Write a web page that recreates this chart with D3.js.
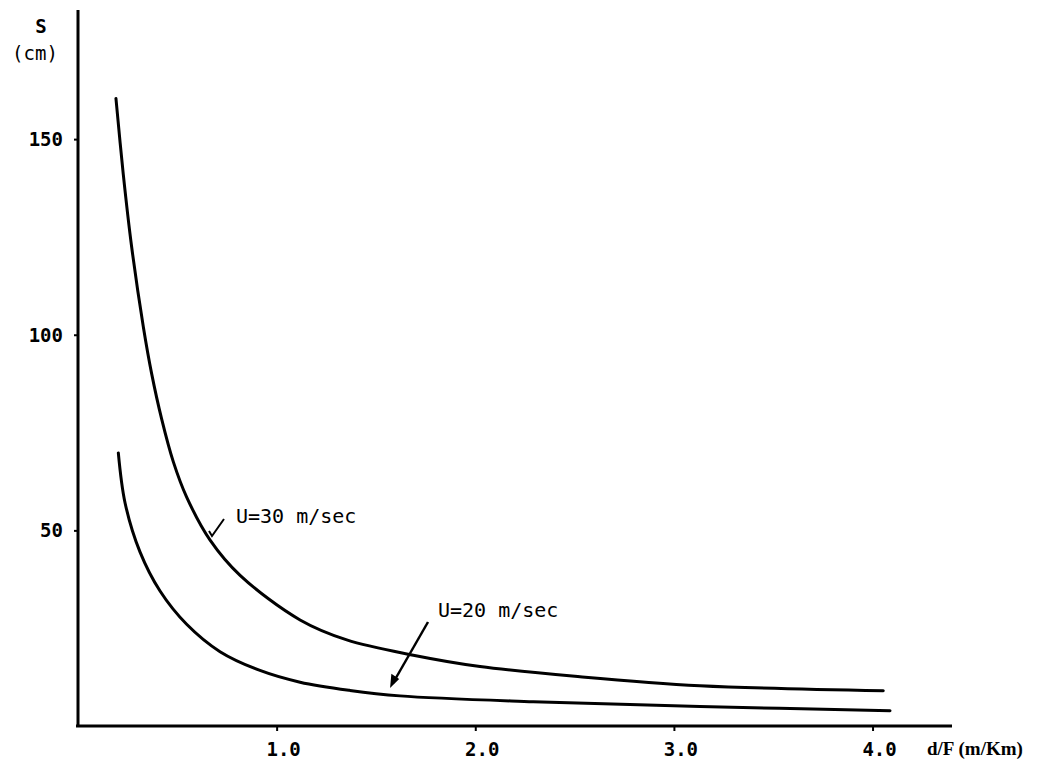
<!DOCTYPE html>
<html>
<head>
<meta charset="utf-8">
<script src="https://cdn.jsdelivr.net/npm/d3@7"></script>
<style>
  body { margin: 0; background: #fff; }
  svg { display: block; }
</style>
</head>
<body>
<svg id="chart" width="1057" height="765"></svg>
<script>
// data (x = d/F in m/Km, y = S in cm)
const u30X = [0.191, 0.228, 0.270, 0.329, 0.371, 0.421, 0.480, 0.547, 0.665, 0.816, 1.118, 1.353, 1.688, 2.024, 2.527, 3.131, 4.054];
const u30Y = [160.4, 141.0, 122.5, 102.0, 90.0, 78.5, 67.5, 58.5, 47.5, 38.5, 27.1, 22.0, 18.1, 15.2, 12.6, 10.3, 9.0];
const u20X = [0.203, 0.237, 0.312, 0.413, 0.547, 0.715, 0.916, 1.118, 1.369, 1.621, 2.292, 3.131, 4.088];
const u20Y = [69.8, 57.0, 44.5, 34.5, 26.0, 19.0, 14.2, 11.2, 9.1, 7.7, 6.2, 5.0, 3.9];
const xTicks = [1, 2, 3, 4];
const xTickLabels = ["1.0", "2.0", "3.0", "4.0"];
const yTicks = [50, 100, 150];

const svg = d3.select("#chart");

const x = d3.scaleLinear().domain([0, 4.4]).range([78, 952]);
const y = d3.scaleLinear().domain([0, 183]).range([726, 10]);

const monoFont = "'DejaVu Sans Mono', 'Liberation Mono', monospace";

// axes
const xAxis = d3.axisBottom(x).tickValues(xTicks).tickSize(5).tickFormat("");
const yAxis = d3.axisLeft(y).tickValues(yTicks).tickSize(4).tickFormat("");

const gx = svg.append("g").attr("transform", `translate(0,${y(0)})`).call(xAxis);
gx.select(".domain").remove();
gx.selectAll(".tick line").attr("stroke", "#000").attr("stroke-width", 2);
gx.append("line")
  .attr("x1", x(-0.01)).attr("x2", x(4.4))
  .attr("stroke", "#000").attr("stroke-width", 3);

const gy = svg.append("g").attr("transform", `translate(${x(0)},0)`).call(yAxis);
gy.select(".domain").remove();
gy.selectAll(".tick line").attr("stroke", "#000").attr("stroke-width", 2);
gy.append("line")
  .attr("y1", y(183)).attr("y2", y(0) + 1)
  .attr("stroke", "#000").attr("stroke-width", 3);

// tick labels
svg.selectAll(".xlab")
  .data(xTicks)
  .enter()
  .append("text")
  .attr("x", (d, i) => x(d) + 7)
  .attr("y", y(0) + 30)
  .attr("text-anchor", "middle")
  .style("font-family", monoFont)
  .style("font-weight", "bold")
  .style("font-size", "19px")
  .text((d, i) => xTickLabels[i]);

svg.selectAll(".ylab")
  .data(yTicks)
  .enter()
  .append("text")
  .attr("x", x(0) - 15)
  .attr("y", d => y(d) + 7)
  .attr("text-anchor", "end")
  .style("font-family", monoFont)
  .style("font-weight", "bold")
  .style("font-size", "19px")
  .text(d => d);

// axis titles
svg.append("text")
  .attr("x", 41).attr("y", 33)
  .attr("text-anchor", "middle")
  .style("font-family", monoFont)
  .style("font-weight", "bold")
  .style("font-size", "19px")
  .text("S");
svg.append("text")
  .attr("x", 35).attr("y", 60)
  .attr("text-anchor", "middle")
  .style("font-family", monoFont)
  .style("font-size", "19px")
  .text("(cm)");
svg.append("text")
  .attr("x", 927).attr("y", 755)
  .style("font-family", "'Liberation Serif', serif")
  .style("font-weight", "bold")
  .style("font-size", "19px")
  .text("d/F (m/Km)");

// curves
const line = d3.line()
  .x(d => x(d[0]))
  .y(d => y(d[1]))
  .curve(d3.curveCatmullRom.alpha(0.5));

const u30 = u30X.map((v, i) => [v, u30Y[i]]);
const u20 = u20X.map((v, i) => [v, u20Y[i]]);

[u30, u20].forEach(s => {
  svg.append("path")
    .datum(s)
    .attr("fill", "none")
    .attr("stroke", "#000")
    .attr("stroke-width", 3)
    .attr("stroke-linecap", "round")
    .attr("d", line);
});

// curve labels
svg.append("text")
  .attr("x", 236).attr("y", 523)
  .style("font-family", monoFont)
  .style("font-size", "20px")
  .text("U=30 m/sec");

svg.append("text")
  .attr("x", 438).attr("y", 617)
  .style("font-family", monoFont)
  .style("font-size", "20px")
  .text("U=20 m/sec");

// small check-mark pointer for U=30
svg.append("path")
  .attr("d", "M209,531 L212,536 L224,519")
  .attr("fill", "none")
  .attr("stroke", "#000")
  .attr("stroke-width", 2);

// arrow for U=20
svg.append("line")
  .attr("x1", 428).attr("y1", 622)
  .attr("x2", 393).attr("y2", 683)
  .attr("stroke", "#000")
  .attr("stroke-width", 2.5);
svg.append("path")
  .attr("d", "M391,686 L392,675 L398,679 Z")
  .attr("fill", "#000")
  .attr("stroke", "#000")
  .attr("stroke-width", 1.5);
</script>
</body>
</html>
